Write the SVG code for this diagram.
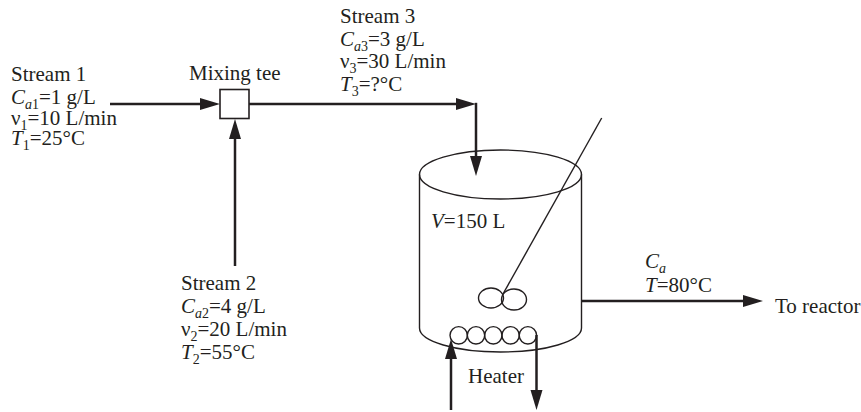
<svg xmlns="http://www.w3.org/2000/svg" width="861" height="412" viewBox="0 0 861 412">
<style>
text{font-family:"Liberation Serif","Times New Roman",serif;font-size:21px;fill:#231f20}
.i{font-style:italic}
.s{font-size:14px}
.thick{fill:none;stroke:#231f20;stroke-width:2.5}
.thin{fill:none;stroke:#231f20;stroke-width:1.4}
</style>
<defs>
<marker id="ah" markerUnits="userSpaceOnUse" markerWidth="22" markerHeight="14" refX="10" refY="6.5" orient="auto" viewBox="0 0 22 13">
<path d="M0,0.5 L20,6.5 L0,12.5 z" fill="#231f20"/>
</marker>
</defs>
<rect width="861" height="412" fill="#fff"/>

<g id="connectors">
<path class="thick" d="M110,104 H210" marker-end="url(#ah)"/>
<path class="thick" d="M235,266 V129" marker-end="url(#ah)"/>
<path class="thick" d="M249,104 H466" marker-end="url(#ah)"/>
<path class="thick" d="M476,102.8 V166" marker-end="url(#ah)"/>
<path class="thick" d="M582,301 H753" marker-end="url(#ah)"/>
<path class="thick" d="M451,410 V349" marker-end="url(#ah)"/>
<path class="thick" d="M536.5,335 V400" marker-end="url(#ah)"/>
</g>

<g id="stream1">
<text x="11" y="81">Stream 1</text>
<text x="11" y="104"><tspan class="i">C</tspan><tspan class="i s" dy="5">a</tspan><tspan class="s">1</tspan><tspan dy="-5">=1 g/L</tspan></text>
<text x="11" y="125">ν<tspan class="s" dy="5">1</tspan><tspan dy="-5">=10 L/min</tspan></text>
<text x="11" y="145"><tspan class="i">T</tspan><tspan class="s" dy="5">1</tspan><tspan dy="-5">=25°C</tspan></text>
</g>

<g id="mixing-tee">
<text x="189" y="80">Mixing tee</text>
<rect x="220" y="89.5" width="29" height="29" fill="#fff" stroke="#231f20" stroke-width="1.6"/>
</g>

<g id="stream3">
<text x="340" y="23">Stream 3</text>
<text x="340" y="46"><tspan class="i">C</tspan><tspan class="i s" dy="5">a</tspan><tspan class="s">3</tspan><tspan dy="-5">=3 g/L</tspan></text>
<text x="340" y="68">ν<tspan class="s" dy="5">3</tspan><tspan dy="-5">=30 L/min</tspan></text>
<text x="340" y="91"><tspan class="i">T</tspan><tspan class="s" dy="5">3</tspan><tspan dy="-5">=?°C</tspan></text>
</g>

<g id="stream2">
<text x="181" y="290">Stream 2</text>
<text x="181" y="313"><tspan class="i">C</tspan><tspan class="i s" dy="5">a</tspan><tspan class="s">2</tspan><tspan dy="-5">=4 g/L</tspan></text>
<text x="181" y="336">ν<tspan class="s" dy="5">2</tspan><tspan dy="-5">=20 L/min</tspan></text>
<text x="181" y="359"><tspan class="i">T</tspan><tspan class="s" dy="5">2</tspan><tspan dy="-5">=55°C</tspan></text>
</g>

<g id="tank">
<ellipse class="thin" cx="500.5" cy="174.5" rx="81" ry="24.5"/>
<path class="thin" d="M419.5,174.5 V328 A81,24 0 0 0 581.5,328 V174.5"/>
<line class="thin" x1="601.7" y1="118" x2="503" y2="294" stroke-width="1.2"/>
<ellipse class="thin" cx="491" cy="298" rx="12.5" ry="10"/>
<ellipse class="thin" cx="514" cy="299.5" rx="12.5" ry="10.5" fill="#fff"/>
<text x="431" y="228"><tspan class="i">V</tspan>=150 L</text>
</g>

<g id="heater">
<circle class="thin" cx="458.7" cy="335.3" r="8.7"/>
<circle class="thin" cx="476" cy="335.3" r="8.7"/>
<circle class="thin" cx="493.3" cy="335.3" r="8.7"/>
<circle class="thin" cx="510.6" cy="335.3" r="8.7"/>
<circle class="thin" cx="527.9" cy="335.3" r="8.7"/>
<text x="468" y="383">Heater</text>
</g>

<g id="outlet">
<text x="645" y="268"><tspan class="i">C</tspan><tspan class="i s" dy="5">a</tspan></text>
<text x="645" y="292"><tspan class="i">T</tspan>=80°C</text>
<text x="775" y="313">To reactor</text>
</g>
</svg>
